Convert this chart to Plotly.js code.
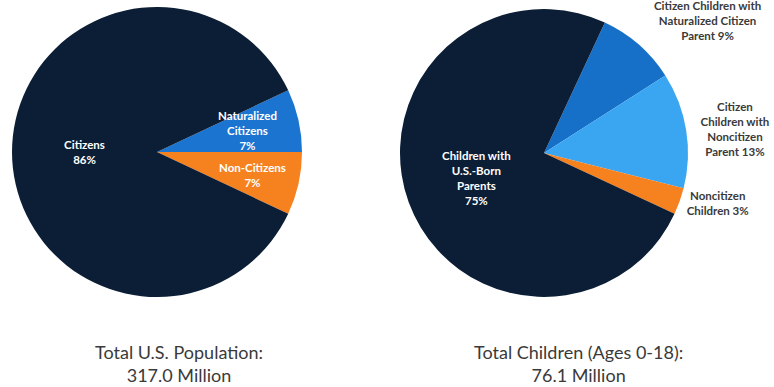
<!DOCTYPE html>
<html>
<head>
<meta charset="utf-8">
<script src="https://cdn.plot.ly/plotly-3.0.1.min.js"></script>
<style>html,body{margin:0;padding:0;background:#fff;}#chart{width:774px;height:387px;}</style>
</head>
<body>
<div id="chart"></div>
<script>
// Left pie: total U.S. population
const popLabels = ["Naturalized Citizens", "Non-Citizens", "Citizens"];
const popValues = [7, 7, 86];
const popText = ["Naturalized<br>Citizens<br>7%", "Non-Citizens<br>7%", "Citizens<br>86%"];
const popColors = ["#1b74cf", "#f5821f", "#0c1e36"];

// Right pie: total children (ages 0-18)
const kidLabels = ["Citizen Children with Naturalized Citizen Parent", "Citizen Children with Noncitizen Parent", "Noncitizen Children", "Children with U.S.-Born Parents"];
const kidValues = [9, 13, 3, 75];
const kidText = ["Citizen Children with<br>Naturalized Citizen<br>Parent 9%", "Citizen<br>Children with<br>Noncitizen<br>Parent 13%", "Noncitizen<br>Children 3%", "Children with<br>U.S.-Born<br>Parents<br>75%"];
const kidColors = ["#1670c8", "#3aa6f2", "#f5821f", "#0c1e36"];

// Titles
const titles = ["Total U.S. Population:<br>317.0 Million", "Total Children (Ages 0-18):<br>76.1 Million"];

const labelFont = {family: "Lato, 'Open Sans', sans-serif", size: 11.5, weight: 700};

const data = [
  {
    type: "pie",
    labels: popLabels,
    values: popValues,
    // small slices are labelled by annotations below so their text is not shrunk
    text: popText.map((t, i) => popValues[i] > 50 ? t : ""),
    textinfo: "text",
    textposition: "inside",
    insidetextorientation: "horizontal",
    sort: false,
    direction: "clockwise",
    rotation: 64.8,
    marker: {colors: popColors, line: {width: 0}},
    textfont: Object.assign({color: "#ffffff"}, labelFont),
    domain: {x: [12/774, 302/774], y: [90/387, 380/387]},
    hoverinfo: "label+percent",
    showlegend: false
  },
  {
    type: "pie",
    labels: kidLabels,
    values: kidValues,
    // first slice's label is placed by an annotation (higher, as in the source)
    text: kidText.map((t, i) => i === 0 ? "" : t),
    textinfo: "text",
    textposition: ["outside", "outside", "outside", "inside"],
    insidetextorientation: "horizontal",
    sort: false,
    direction: "clockwise",
    rotation: 25,
    marker: {colors: kidColors, line: {width: 0}},
    insidetextfont: Object.assign({color: "#ffffff"}, labelFont),
    outsidetextfont: Object.assign({color: "#3a3a3a"}, labelFont),
    domain: {x: [400/774, 688/774], y: [90/387, 378/387]},
    hoverinfo: "label+percent",
    showlegend: false
  }
];

const titleFont = {family: "Lato, 'Open Sans', sans-serif", size: 18, color: "#3a3a3a"};
const sliceFont = Object.assign({color: "#ffffff"}, labelFont);
const outFont = Object.assign({color: "#3a3a3a"}, labelFont);

const layout = {
  width: 774,
  height: 387,
  margin: {l: 0, r: 0, t: 0, b: 0},
  paper_bgcolor: "#ffffff",
  showlegend: false,
  annotations: [
    {text: popText[0], x: 248/774, y: (387-130)/387, xref: "paper", yref: "paper", xanchor: "center", yanchor: "middle", showarrow: false, font: sliceFont, align: "center"},
    {text: popText[1], x: 252/774, y: (387-175)/387, xref: "paper", yref: "paper", xanchor: "center", yanchor: "middle", showarrow: false, font: sliceFont, align: "center"},
    {text: kidText[0], x: 707/774, y: (387-21)/387, xref: "paper", yref: "paper", xanchor: "center", yanchor: "middle", showarrow: false, font: outFont, align: "center"},
    {text: titles[0], x: 179/774, y: 0.06, xref: "paper", yref: "paper", xanchor: "center", yanchor: "middle", showarrow: false, font: titleFont, align: "center"},
    {text: titles[1], x: 578/774, y: 0.06, xref: "paper", yref: "paper", xanchor: "center", yanchor: "middle", showarrow: false, font: titleFont, align: "center"}
  ]
};

Plotly.newPlot("chart", data, layout, {displayModeBar: false, staticPlot: true});
</script>
</body>
</html>
